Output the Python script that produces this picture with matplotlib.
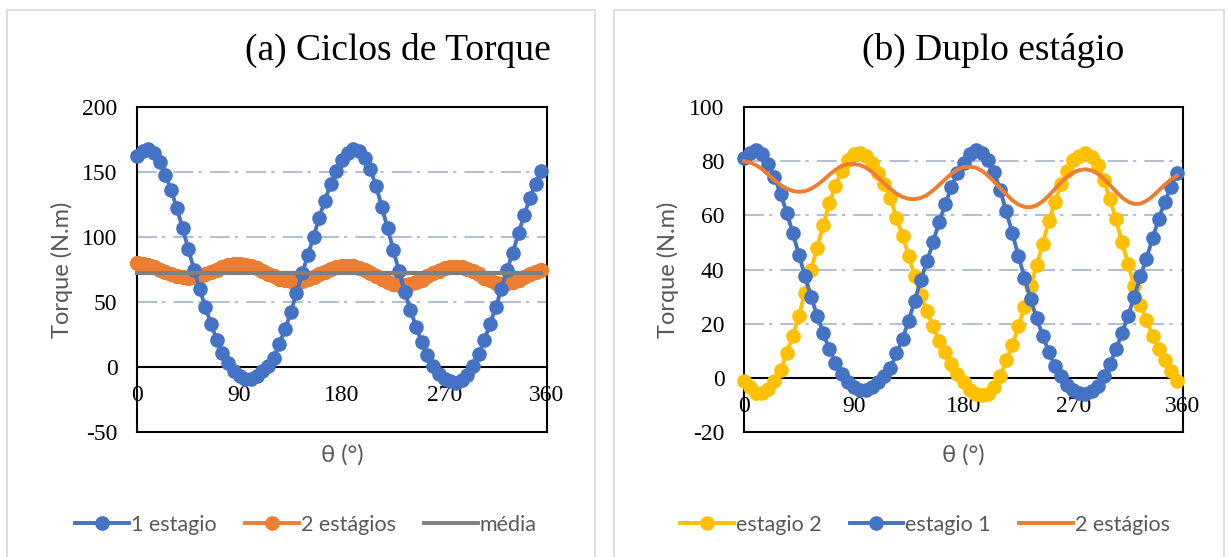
import matplotlib.pyplot as plt
import numpy as np
from matplotlib.lines import Line2D
from matplotlib.patches import Rectangle

plt.rcParams['lines.scale_dashes'] = False
plt.rcParams['axes.unicode_minus'] = False

# angulo do eixo (graus), passo de 5
theta = np.arange(0, 360, 5)

# (a) torque de um estagio
um_estagio = [162, 166, 168, 165, 158, 148, 136, 122, 107, 91,
              75, 60, 46, 33, 21, 11, 3, -3, -7, -9,
              -9, -7, -3, 1, 7, 18, 29, 42, 57, 72,
              86, 100, 115, 128, 141, 151, 159, 165, 168, 166,
              161, 152, 139, 123, 107, 90, 74, 58, 44, 31,
              19, 9, 1, -5, -9, -11, -12, -10, -6, 1,
              10, 21, 33, 46, 60, 75, 88, 103, 117, 130,
              141, 151]

# torque total com dois estagios
dois_estagios = [80, 79.5, 78.5, 77, 75, 73, 71.2, 69.8, 69, 68.7,
                 68.9, 69.8, 71.2, 73, 75, 76.8, 78.2, 78.9, 79, 78.6,
                 77.6, 76, 74, 71.8, 69.8, 68, 66.8, 66.1, 66, 66.4,
                 67.5, 69.2, 71.2, 73.3, 75.3, 76.9, 77.8, 78, 77.6, 76.5,
                 74.7, 72.5, 70.1, 67.8, 65.6, 64, 63.1, 63, 63.7, 65.2,
                 67.3, 69.7, 72.1, 74.2, 75.8, 76.7, 77, 76.6, 75.4, 73.5,
                 71.2, 68.8, 66.6, 65, 64.2, 64.3, 65.3, 67, 69.1, 71.3,
                 73.2, 74.6]

media = 72.5

# (b) cada estagio separado
estagio_1 = [81, 83, 84, 82.5, 79, 74, 68, 61, 53.5, 45.5,
             37.5, 30, 23, 16.5, 10.5, 5.5, 1.5, -1.5, -3.5, -4.5,
             -4.5, -3.5, -1.5, 0.5, 3.5, 9, 14.5, 21, 28.5, 36,
             43, 50, 57.5, 64, 70.5, 75.5, 79.5, 82.5, 84, 83,
             80.5, 76, 69.5, 61.5, 53.5, 45, 37, 29, 22, 15.5,
             9.5, 4.5, 0.5, -2.5, -4.5, -5.5, -6, -5, -3, 0.5,
             5, 10.5, 16.5, 23, 30, 37.5, 44, 51.5, 58.5, 65,
             70.5, 75.5]

estagio_2 = [-1, -3.5, -5.5, -5.5, -4, -1, 3, 9, 15.5, 23,
             31.5, 40, 48, 56.5, 64.5, 71, 76.5, 80.5, 82.5, 83,
             82, 79.5, 75.5, 71.5, 66.5, 59, 52.5, 45, 37.5, 30.5,
             24.5, 19, 13.5, 9.5, 5, 1.5, -1.5, -4.5, -6, -6.5,
             -6, -3.5, 0.5, 6.5, 12, 19, 26, 34, 41.5, 49.5,
             58, 65, 71.5, 76.5, 80.5, 82, 83, 81.5, 78.5, 73,
             66, 58.5, 50, 42, 34, 27, 21.5, 15.5, 10.5, 6.5,
             2.5, -1]

xticks = [0, 90, 180, 270, 360]

azul = '#4472C4'
laranja = '#ED7D31'
cinza = '#7F7F7F'
amarelo = '#FFC000'
texto = '#595959'
grade = '#B4BFD0'

serif = 'Liberation Serif'
sans = ['Lato', 'DejaVu Sans']

W, H = 1229, 557
fig = plt.figure(figsize=(W / 100, H / 100), dpi=100)

# molduras dos dois graficos
for x0, x1 in [(7, 595), (614, 1224)]:
    fig.patches.append(Rectangle((x0 / W, -0.05), (x1 - x0) / W, 1.05 - 10 / H,
                                 transform=fig.transFigure, fill=False,
                                 edgecolor='#D9D9D9', lw=1.2))


def painel(x0, x1, ymin, ymax, passo):
    ax = fig.add_axes([x0 / W, 1 - 432 / H, (x1 - x0) / W, (432 - 107) / H])
    ax.set_xlim(0, 360)
    ax.set_ylim(ymin, ymax)
    ax.set_yticks(np.arange(ymin, ymax + 1, passo))
    ax.set_xticks([])
    ax.tick_params(axis='y', length=0, pad=14, labelsize=17)
    for lab in ax.get_yticklabels():
        lab.set_fontfamily(serif)
    for s in ax.spines.values():
        s.set_color('black')
        s.set_linewidth(1.5)
    for y in np.arange(passo, ymax, passo):
        ax.axhline(y, color=grade, lw=1.5, ls=(0, (14.4, 3.6, 2.4, 5.8)), zorder=1)
    # eixo x cruzando no zero
    sec = ax.secondary_xaxis((0 - ymin) / (ymax - ymin))
    sec.set_xticks(xticks)
    sec.tick_params(length=0, pad=13, labelsize=17)
    for lab in sec.get_xticklabels():
        lab.set_fontfamily(serif)
    sec.spines['bottom'].set_linewidth(1.5)
    sec.spines['bottom'].set_color('black')
    return ax


# (a)
ax1 = painel(137, 547, -50, 200, 50)
ax1.plot(theta, um_estagio, color=azul, lw=2.8, marker='o', ms=9.5, clip_on=False, zorder=4)
# marcadores muito proximos: faixa continua
ax1.plot(theta, dois_estagios, color=laranja, lw=9.5, marker='o', ms=10,
         solid_capstyle='round', clip_on=False, zorder=3)
ax1.plot(theta, [media] * len(theta), color=cinza, lw=3, clip_on=False, zorder=5)

# (b)
ax2 = painel(744, 1183, -20, 100, 20)
ax2.plot(theta, estagio_2, color=amarelo, lw=2.8, marker='o', ms=9.5, clip_on=False, zorder=3)
ax2.plot(theta, estagio_1, color=azul, lw=2.8, marker='o', ms=9.5, clip_on=False, zorder=4)
ax2.plot(theta, dois_estagios, color=laranja, lw=2.8, clip_on=False, zorder=5)

# titulos e rotulos dos eixos
fig.text(398 / W, 1 - 50 / H, '(a) Ciclos de Torque', ha='center', va='center',
         family=serif, fontsize=27)
fig.text(993 / W, 1 - 50 / H, '(b) Duplo estágio', ha='center', va='center',
         family=serif, fontsize=27)
for xc in [62, 668]:
    fig.text(xc / W, 1 - 270 / H, 'Torque (N.m)', ha='center', va='center',
             rotation=90, family=sans, fontsize=17, color=texto)
for xc in [342, 963]:
    fig.text(xc / W, 1 - 455 / H, 'θ (°)', ha='center', va='center',
             family=sans, fontsize=17, color=texto)

# legendas
def marca(cor, bolinha=True):
    return Line2D([], [], color=cor, lw=2.8, marker='o' if bolinha else None, ms=9.5)


fig.legend([marca(azul), marca(laranja), marca(cinza, False)],
           ['1 estagio', '2 estágios', 'média'],
           loc='center', bbox_to_anchor=(306 / W, 1 - 525 / H), ncol=3, frameon=False,
           prop={'family': sans, 'size': 15.5}, labelcolor=texto,
           handlelength=2.5, handletextpad=0.1, columnspacing=1.3)
fig.legend([marca(amarelo), marca(azul), marca(laranja, False)],
           ['estagio 2', 'estagio 1', '2 estágios'],
           loc='center', bbox_to_anchor=(925 / W, 1 - 525 / H), ncol=3, frameon=False,
           prop={'family': sans, 'size': 15.5}, labelcolor=texto,
           handlelength=2.5, handletextpad=0.1, columnspacing=1.3)

fig.savefig('out.png', dpi=100)
